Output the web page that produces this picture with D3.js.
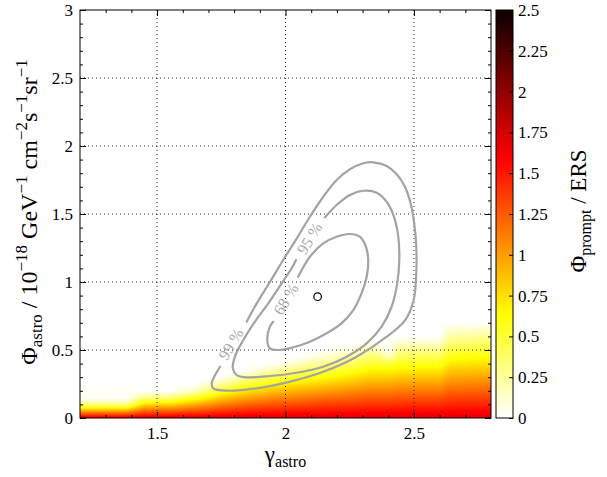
<!DOCTYPE html>
<html><head><meta charset="utf-8">
<script src="https://cdn.jsdelivr.net/npm/d3@7"></script>
<style>
html,body{margin:0;padding:0;background:#fff;}
svg{display:block;font-family:"Liberation Serif","DejaVu Serif",serif;}
</style></head><body>
<svg id="chart" width="607" height="477"></svg>
<script>
// ---------------- data ----------------
// gamma sample columns of the prompt-flux map
const gammaCols = [1.20,1.38,1.45,1.55,1.65,1.75,1.85,1.95,2.05,2.15,2.25,2.33,2.37,2.40,2.44,2.52,2.60,2.64,2.72,2.80];
// phi_astro sample rows
const phiRows = [0,0.05,0.10,0.15,0.20,0.25,0.30,0.35,0.40,0.45,0.50,0.55,0.60,0.65,0.70,0.75];
// Phi_prompt / ERS at each (gamma column, phi row); missing entries are 0
const promptRatio = [
  [1.70,0.99,0.28,0,0.03,0],
  [1.70,0.99,0.28,0,0.03,0],
  [1.70,1.23,0.76,0.28,0],
  [1.70,1.24,0.78,0.32,0],
  [1.70,1.31,0.93,0.54,0.15,0],
  [1.70,1.41,1.11,0.82,0.53,0.23,0],
  [1.70,1.46,1.21,0.97,0.73,0.49,0.24,0],
  [1.70,1.49,1.28,1.06,0.85,0.64,0.43,0.21,0],
  [1.70,1.51,1.31,1.12,0.93,0.73,0.54,0.35,0.15,0],
  [1.70,1.52,1.35,1.17,0.99,0.81,0.64,0.46,0.28,0.11,0],
  [1.70,1.54,1.37,1.21,1.05,0.88,0.72,0.56,0.39,0.23,0.07,0],
  [1.70,1.55,1.40,1.25,1.10,0.95,0.81,0.66,0.51,0.36,0.21,0.06,0],
  [1.70,1.55,1.40,1.25,1.10,0.95,0.81,0.66,0.51,0.33,0.15,0],
  [1.70,1.55,1.40,1.25,1.10,0.95,0.81,0.66,0.48,0.15,0],
  [1.70,1.56,1.41,1.27,1.12,0.98,0.84,0.69,0.55,0.40,0.26,0.12,0],
  [1.70,1.56,1.42,1.28,1.13,0.99,0.85,0.71,0.57,0.43,0.28,0.14,0],
  [1.70,1.56,1.42,1.28,1.13,0.99,0.85,0.71,0.57,0.43,0.28,0.14,0],
  [1.70,1.58,1.45,1.33,1.21,1.08,0.96,0.84,0.71,0.59,0.47,0.34,0.22,0.10,0],
  [1.70,1.58,1.46,1.34,1.21,1.09,0.97,0.85,0.73,0.61,0.49,0.36,0.24,0.12,0],
  [1.70,1.58,1.46,1.34,1.22,1.10,0.98,0.86,0.74,0.62,0.50,0.38,0.26,0.14,0.02,0]
];
// confidence contours [gamma, phi]
const contour68 = [[2.049,1.039],[2.095,1.186],[2.147,1.284],[2.199,1.333],[2.251,1.353],[2.289,1.333],[2.313,1.260],[2.322,1.162],[2.316,1.039],[2.296,0.917],[2.264,0.794],[2.218,0.696],[2.160,0.623],[2.095,0.561],[2.030,0.520],[1.972,0.500],[1.939,0.512],[1.929,0.574],[1.939,0.671],[1.952,0.708]];
const contour95 = [[2.154,1.476],[2.199,1.566],[2.251,1.640],[2.303,1.671],[2.355,1.657],[2.394,1.590],[2.422,1.480],[2.439,1.333],[2.443,1.162],[2.435,0.990],[2.413,0.818],[2.374,0.671],[2.316,0.549],[2.238,0.451],[2.147,0.377],[2.044,0.333],[1.940,0.309],[1.849,0.299],[1.810,0.316],[1.795,0.365],[1.803,0.451],[1.836,0.574],[1.881,0.708],[1.933,0.843],[1.985,0.990],[2.024,1.101],[2.041,1.162]];
const contour99 = [[1.849,0.708],[1.888,0.843],[1.940,1.002],[1.991,1.162],[2.044,1.321],[2.095,1.480],[2.147,1.627],[2.199,1.750],[2.251,1.829],[2.303,1.873],[2.342,1.880],[2.394,1.853],[2.433,1.792],[2.465,1.701],[2.487,1.579],[2.501,1.432],[2.509,1.260],[2.509,1.064],[2.499,0.868],[2.466,0.720],[2.394,0.598],[2.277,0.451],[2.147,0.340],[2.018,0.267],[1.888,0.218],[1.771,0.201],[1.719,0.218],[1.713,0.255],[1.745,0.377]];
const contourLabels = ["68 %","95 %","99 %"];
const contourLabelAt = [[2.001,0.874],[2.093,1.321],[1.787,0.544]];
const bestFit = [2.125,0.892];
// ticks
const xMajor = [1.5,2,2.5];
const yMajor = [0,0.5,1,1.5,2,2.5,3];
const cbTicks = [0,0.25,0.5,0.75,1,1.25,1.5,1.75,2,2.25,2.5];

// ---------------- layout ----------------
const M = {left:80, right:491, top:10, bottom:418};
const svg = d3.select("#chart");
const x = d3.scaleLinear().domain([1.2,2.8]).range([M.left,M.right]);
const y = d3.scaleLinear().domain([0,3]).range([M.bottom,M.top]);
const colour = d3.scaleLinear().domain([0,0.635,1.5875,2.5])
  .range(["#ffffff","#ffff00","#ff0000","#0a0000"]).clamp(true);

// ---------------- heat map ----------------
function cell(ci,ri){ const c = promptRatio[ci]; return ri < c.length ? c[ri] : 0; }
function valAt(g,p){
  const n = gammaCols.length, m = phiRows.length;
  if (p >= phiRows[m-1]) return 0;
  const ci = Math.max(0, Math.min(n-2, d3.bisectRight(gammaCols,g)-1));
  let tg = (g-gammaCols[ci])/(gammaCols[ci+1]-gammaCols[ci]); tg = Math.max(0,Math.min(1,tg));
  const ri = Math.max(0, Math.min(m-2, d3.bisectRight(phiRows,p)-1));
  let tp = (p-phiRows[ri])/(phiRows[ri+1]-phiRows[ri]); tp = Math.max(0,Math.min(1,tp));
  const a=cell(ci,ri), b=cell(ci+1,ri), c=cell(ci,ri+1), d=cell(ci+1,ri+1);
  return (a*(1-tg)+b*tg)*(1-tp) + (c*(1-tg)+d*tg)*tp;
}
const cw = Math.round(M.right-M.left), ch = Math.round(M.bottom-M.top);
const cv = document.createElement("canvas"); cv.width = cw; cv.height = ch;
const ctx = cv.getContext("2d");
const img = ctx.createImageData(cw,ch);
for (let j=0;j<ch;j++){
  const p = y.invert(M.top+j+0.5);
  for (let i=0;i<cw;i++){
    const k = (j*cw+i)*4;
    let r=255,g=255,b=255;
    if (p < 0.8){
      const v = valAt(x.invert(M.left+i+0.5), p);
      if (v > 0){ const c = d3.rgb(colour(v)); r=c.r; g=c.g; b=c.b; }
    }
    img.data[k]=r; img.data[k+1]=g; img.data[k+2]=b; img.data[k+3]=255;
  }
}
ctx.putImageData(img,0,0);
svg.append("image").attr("href", cv.toDataURL())
  .attr("x", x(1.2)).attr("y", y(3)).attr("width", cw).attr("height", ch)
  .attr("preserveAspectRatio","none");

// ---------------- grid ----------------
const grid = svg.append("g").attr("stroke","#222").attr("stroke-width",1).attr("stroke-dasharray","1,3");
grid.selectAll("line.gx").data(xMajor).join("line")
  .attr("x1",d=>x(d)).attr("x2",d=>x(d)).attr("y1",M.top).attr("y2",M.bottom);
grid.selectAll("line.gy").data(yMajor.filter(d=>d>0&&d<3)).join("line")
  .attr("y1",d=>y(d)).attr("y2",d=>y(d)).attr("x1",M.left).attr("x2",M.right);

// ---------------- contours ----------------
const line = d3.line().x(d=>x(d[0])).y(d=>y(d[1])).curve(d3.curveCatmullRom.alpha(0.5));
svg.append("g").selectAll("path").data([contour68,contour95,contour99]).join("path")
  .attr("d", line).attr("fill","none").attr("stroke","#a3a3a3").attr("stroke-width",2.2)
  .attr("stroke-linecap","round");
svg.append("g").selectAll("text").data(contourLabels).join("text")
  .attr("transform",(d,i)=>`translate(${x(contourLabelAt[i][0])},${y(contourLabelAt[i][1])}) rotate(-59)`)
  .attr("text-anchor","middle").attr("dy","0.35em")
  .attr("font-size",16).attr("fill","#a8a8a8").text(d=>d);
svg.append("circle").attr("cx",x(bestFit[0])).attr("cy",y(bestFit[1])).attr("r",3.8)
  .attr("fill","none").attr("stroke","#000").attr("stroke-width",1.2);

// ---------------- axes ----------------
const xMinor = d3.range(13,28).map(d=>d/10).filter(d=>!xMajor.includes(d));
const yMinor = d3.range(1,30).map(d=>d/10).filter(d=>Math.abs(d*2-Math.round(d*2))>1e-6);
function styleAxis(g){ g.select(".domain").remove(); g.selectAll("line").attr("stroke","#000"); }
svg.append("g").attr("transform",`translate(0,${M.bottom})`)
  .call(d3.axisBottom(x).tickValues(xMajor).tickSize(-6).tickPadding(9).tickFormat(d3.format("")))
  .call(styleAxis).call(g=>g.selectAll("text").attr("font-size",17).attr("font-family","Liberation Serif").attr("fill","#000"));
svg.append("g").attr("transform",`translate(0,${M.bottom})`)
  .call(d3.axisBottom(x).tickValues(xMinor).tickSize(-3).tickFormat("")).call(styleAxis);
svg.append("g").attr("transform",`translate(0,${M.top})`)
  .call(d3.axisTop(x).tickValues(xMajor).tickSize(-6).tickFormat("")).call(styleAxis);
svg.append("g").attr("transform",`translate(0,${M.top})`)
  .call(d3.axisTop(x).tickValues(xMinor).tickSize(-3).tickFormat("")).call(styleAxis);
svg.append("g").attr("transform",`translate(${M.left},0)`)
  .call(d3.axisLeft(y).tickValues(yMajor).tickSize(-6).tickPadding(7).tickFormat(d3.format("")))
  .call(styleAxis).call(g=>g.selectAll("text").attr("font-size",17).attr("font-family","Liberation Serif").attr("fill","#000"));
svg.append("g").attr("transform",`translate(${M.left},0)`)
  .call(d3.axisLeft(y).tickValues(yMinor).tickSize(-3).tickFormat("")).call(styleAxis);
svg.append("g").attr("transform",`translate(${M.right},0)`)
  .call(d3.axisRight(y).tickValues(yMajor).tickSize(-6).tickFormat("")).call(styleAxis);
svg.append("g").attr("transform",`translate(${M.right},0)`)
  .call(d3.axisRight(y).tickValues(yMinor).tickSize(-3).tickFormat("")).call(styleAxis);
svg.append("rect").attr("x",M.left).attr("y",M.top).attr("width",M.right-M.left).attr("height",M.bottom-M.top)
  .attr("fill","none").attr("stroke","#000").attr("stroke-width",1);

// ---------------- colour bar ----------------
const CB = {left:496, right:513};
const cy = d3.scaleLinear().domain([0,2.5]).range([M.bottom,M.top]);
const grad = svg.append("defs").append("linearGradient").attr("id","cbgrad")
  .attr("x1",0).attr("y1",1).attr("x2",0).attr("y2",0);
grad.selectAll("stop").data(colour.domain()).join("stop")
  .attr("offset",d=>d/2.5).attr("stop-color",d=>colour(d));
svg.append("rect").attr("x",CB.left).attr("y",cy(2.5)).attr("width",CB.right-CB.left)
  .attr("height",cy(0)-cy(2.5)).attr("fill","url(#cbgrad)").attr("stroke","#000").attr("stroke-width",1);
svg.append("g").attr("transform",`translate(${CB.right},0)`)
  .call(d3.axisRight(cy).tickValues(cbTicks).tickSize(-4).tickPadding(5).tickFormat(d3.format("")))
  .call(styleAxis).call(g=>g.selectAll("text").attr("font-size",17).attr("font-family","Liberation Serif").attr("fill","#000"));

// ---------------- titles ----------------
const xt = svg.append("text").attr("x",(M.left+M.right)/2).attr("y",462).attr("text-anchor","middle").attr("font-size",23);
xt.append("tspan").text("γ");
xt.append("tspan").attr("font-size",16).attr("dy",5).text("astro");

const yt = svg.append("text").attr("transform","translate(37,212) rotate(-90)").attr("text-anchor","middle").attr("font-size",24);
yt.append("tspan").text("Φ");
yt.append("tspan").attr("font-size",17).attr("dy",5).text("astro");
yt.append("tspan").attr("dy",-5).text(" / 10");
yt.append("tspan").attr("font-size",17).attr("dy",-10).text("−18");
yt.append("tspan").attr("dy",10).text(" GeV");
yt.append("tspan").attr("font-size",17).attr("dy",-10).text("−1");
yt.append("tspan").attr("dy",10).text(" cm");
yt.append("tspan").attr("font-size",17).attr("dy",-10).text("−2");
yt.append("tspan").attr("dy",10).text("s");
yt.append("tspan").attr("font-size",17).attr("dy",-10).text("−1");
yt.append("tspan").attr("dy",10).text("sr");
yt.append("tspan").attr("font-size",17).attr("dy",-10).text("−1");

const ct = svg.append("text").attr("transform","translate(586,211) rotate(-90)").attr("text-anchor","middle").attr("font-size",23);
ct.append("tspan").text("Φ");
ct.append("tspan").attr("font-size",16).attr("dy",5).text("prompt");
ct.append("tspan").attr("dy",-5).text(" / ERS");
</script>
</body></html>
